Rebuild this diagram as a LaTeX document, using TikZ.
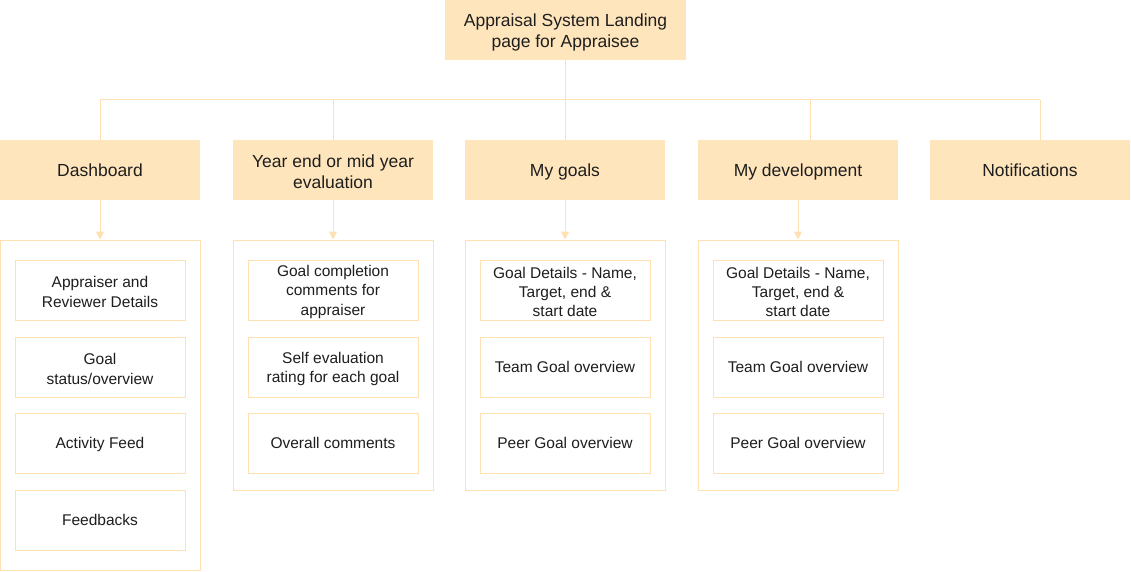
\documentclass[tikz,border=0pt]{standalone}
\usepackage{fontspec}
\setmainfont{Liberation Sans}
\usetikzlibrary{arrows.meta}
\definecolor{peach}{RGB}{255,229,188}
\definecolor{peachline}{RGB}{255,224,178}
\definecolor{txt}{RGB}{30,30,30}
\newcommand{\fl}{\rule{0pt}{0.97em}}
\tikzset{
  head/.style={rectangle, fill=peach, draw=none, minimum width=200pt, minimum height=60pt, inner sep=0pt, align=center, text=txt, font=\fontsize{17.5}{21}\selectfont},
  holder/.style={rectangle, draw=peachline, line width=1pt, fill=none, minimum width=200pt, inner sep=0pt},
  item/.style={rectangle, draw=peachline, line width=1pt, fill=white, minimum width=170pt, minimum height=60pt, inner sep=0pt, align=center, text=txt, font=\fontsize{15.5}{19.2}\selectfont},
  onehead/.style={text height=13pt, text depth=0pt},
  oneitem/.style={text height=11.5pt, text depth=0pt},
  conn/.style={draw=peachline, line width=1pt},
  arr/.style={conn, -{Triangle[width=8pt,length=8pt]}}
}
\begin{document}
\begin{tikzpicture}[x=1pt,y=-1pt]
\useasboundingbox (0,0) rectangle (1131,572);
\node[head, minimum width=241pt] (top) at (565.5,30) {\fl Appraisal System Landing\\page for Appraisee};
\node[head, onehead] (l1) at (100,170) {Dashboard};
\node[head] (l2) at (333,170) {\fl Year end or mid year\\evaluation};
\node[head, onehead] (l3) at (565,170) {My goals};
\node[head, onehead] (l4) at (798,170) {My development};
\node[head, onehead] (l5) at (1030,170) {Notifications};

\node[holder, minimum height=330pt] (c1) at (100,405) {};
\node[holder, minimum height=250pt] (c2) at (333,365) {};
\node[holder, minimum height=250pt] (c3) at (565,365) {};
\node[holder, minimum height=250pt] (c4) at (798,365) {};

\node[item] (a1) at (100,290) {\fl Appraiser and\\Reviewer Details};
\node[item] (a2) at (100,367) {\fl Goal\\status/overview};
\node[item, oneitem] (a3) at (100,443) {Activity Feed};
\node[item, oneitem] (a4) at (100,520) {Feedbacks};

\node[item] (b1) at (333,290) {\fl Goal completion\\comments for\\appraiser};
\node[item] (b2) at (333,367) {\fl Self evaluation\\rating for each goal};
\node[item, oneitem] (b3) at (333,443) {Overall comments};

\node[item] (g1) at (565,290) {\fl Goal Details - Name,\\Target, end \&\\start date};
\node[item, oneitem] (g2) at (565,367) {Team Goal overview};
\node[item, oneitem] (g3) at (565,443) {Peer Goal overview};

\node[item] (d1) at (798,290) {\fl Goal Details - Name,\\Target, end \&\\start date};
\node[item, oneitem] (d2) at (798,367) {Team Goal overview};
\node[item, oneitem] (d3) at (798,443) {Peer Goal overview};

\coordinate (bt) at (565.5,100);
\coordinate (p1) at (100,100);
\coordinate (p2) at (333,100);
\coordinate (p3) at (565,100);
\coordinate (p4) at (810,100);
\coordinate (p5) at (1040,100);

\draw[conn] (top.south) -- (bt);
\draw[conn] (p1) -- (p5);
\draw[conn] (p1) -- (l1.north);
\draw[conn] (p2) -- (l2.north);
\draw[conn] (p3) -- (l3.north);
\draw[conn] (p4) -- (p4 |- l4.north);
\draw[conn] (p5) -- (p5 |- l5.north);

\draw[arr] (l1.south) -- (c1.north);
\draw[arr] (l2.south) -- (c2.north);
\draw[arr] (l3.south) -- (c3.north);
\draw[arr] (l4.south) -- (c4.north);
\end{tikzpicture}
\end{document}
